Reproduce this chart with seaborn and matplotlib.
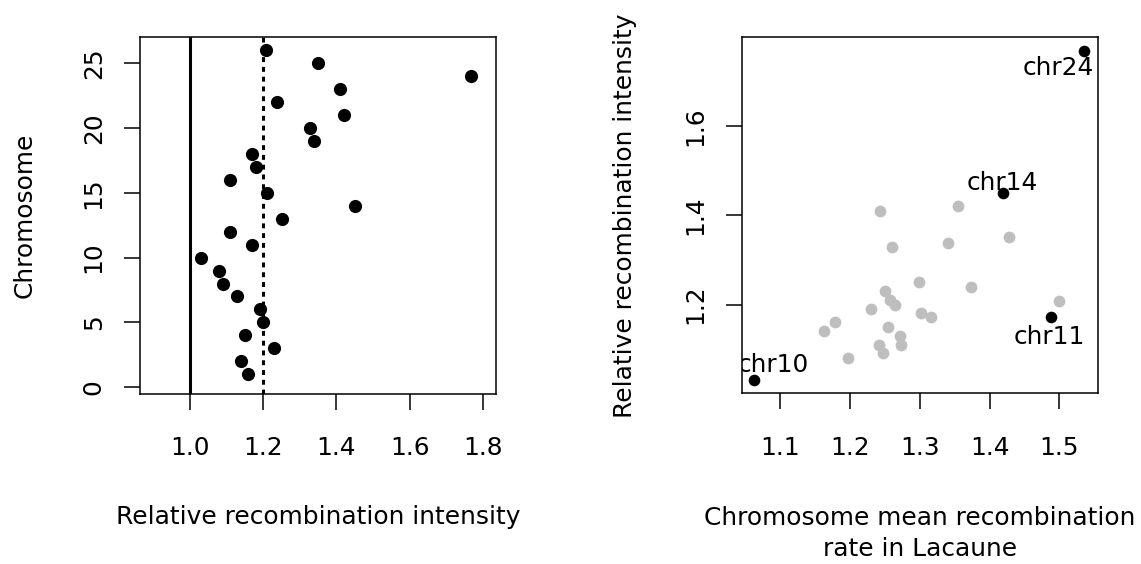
import matplotlib
matplotlib.use("Agg")
import matplotlib.pyplot as plt
import seaborn as sns
import pandas as pd

# ---- data ----
chromosome = list(range(1, 27))
intensity = [1.160, 1.140, 1.230, 1.150, 1.200, 1.191, 1.130, 1.091, 1.080, 1.031,
             1.171, 1.110, 1.251, 1.450, 1.210, 1.110, 1.180, 1.171, 1.339, 1.329,
             1.420, 1.239, 1.409, 1.769, 1.351, 1.209]
mean_rate = [1.178, 1.163, 1.251, 1.255, 1.265, 1.230, 1.272, 1.247, 1.197, 1.063,
             1.4885, 1.241, 1.2995, 1.419, 1.257, 1.273, 1.302, 1.316, 1.341, 1.260,
             1.355, 1.374, 1.243, 1.536, 1.428, 1.4995]
highlight = [10, 11, 14, 24]
ref_solid = 1.0
ref_dotted = 1.2
left_xticks = [1.0, 1.2, 1.4, 1.6, 1.8]
left_yticks = [0, 5, 10, 15, 20, 25]
right_xticks = [1.1, 1.2, 1.3, 1.4, 1.5]
right_yticks = [1.2, 1.4, 1.6]
# label offsets (points) for highlighted chromosomes
label_offsets = {24: (-18.5, -17.3), 14: (-0.4, 2.4), 11: (-1.7, -19.2), 10: (13.7, 5.8)}

df = pd.DataFrame({"chrom": chromosome, "intensity": intensity, "rate": mean_rate})
df["hl"] = df["chrom"].isin(highlight)

sns.set_style("white")
plt.rcParams["font.family"] = ["DejaVu Sans"]
for k in ("text.color", "axes.labelcolor", "xtick.color", "ytick.color",
          "axes.edgecolor"):
    plt.rcParams[k] = "black"
FS = 17.9

fig = plt.figure(figsize=(11.41, 5.64), dpi=100)
W, H = 1141, 564
ax1 = fig.add_axes([140 / W, 1 - 394 / H, 356 / W, 357 / H])
ax2 = fig.add_axes([741.7 / W, 1 - 393.3 / H, 356 / W, 356 / H])

# ---- left panel ----
ax1.axvline(ref_solid, color="black", lw=2.2, zorder=1)
ax1.axvline(ref_dotted, color="black", lw=2.2, linestyle=(0, (1.6, 1.6)), zorder=1)
sns.scatterplot(data=df, x="intensity", y="chrom", ax=ax1, color="black",
                s=90, linewidth=0, zorder=3)
ax1.set_xlim(0.864, 1.836)
ax1.set_ylim(-0.53, 27.03)
ax1.set_xticks(left_xticks)
ax1.set_xticklabels([f"{v:.1f}" for v in left_xticks])
ax1.set_yticks(left_yticks)
ax1.set_xlabel("Relative recombination intensity", fontsize=FS)
ax1.set_ylabel("Chromosome", fontsize=FS)

# ---- right panel ----
sns.scatterplot(data=df[~df["hl"]], x="rate", y="intensity", ax=ax2,
                color="#BEBEBE", s=72, linewidth=0, zorder=2)
sns.scatterplot(data=df[df["hl"]], x="rate", y="intensity", ax=ax2,
                color="black", s=70, linewidth=0, zorder=3)
for _, r in df[df["hl"]].iterrows():
    c = int(r["chrom"])
    ax2.annotate(f"chr{c}", (r["rate"], r["intensity"]), xytext=label_offsets[c],
                 textcoords="offset points", ha="center", va="baseline",
                 fontsize=FS, clip_on=True, zorder=4)
ax2.set_xlim(1.045, 1.555)
ax2.set_ylim(1.001, 1.799)
ax2.set_xticks(right_xticks)
ax2.set_xticklabels([f"{v:.1f}" for v in right_xticks])
ax2.set_yticks(right_yticks)
ax2.set_yticklabels([f"{v:.1f}" for v in right_yticks])
ax2.set_xlabel("Chromosome mean recombination\nrate in Lacaune", fontsize=FS,
               linespacing=1.38)
ax2.set_ylabel("Relative recombination intensity", fontsize=FS)

for ax in (ax1, ax2):
    for sp in ax.spines.values():
        sp.set_visible(True)
        sp.set_color("black")
        sp.set_linewidth(1.1)
    ax.tick_params(axis="both", direction="out", length=11.5, width=1.1,
                   color="black", labelcolor="black", labelsize=FS,
                   bottom=True, left=True)
    ax.tick_params(axis="x", pad=19.0)
    ax.tick_params(axis="y", pad=13.2)
    plt.setp(ax.get_yticklabels(), rotation=90, va="center")

ax1.xaxis.set_label_coords(0.5, -0.31)
ax2.xaxis.set_label_coords(0.5, -0.316)
ax1.yaxis.set_label_coords(-0.29, 0.5)
ax2.yaxis.set_label_coords(-0.295, 0.5)

fig.savefig("out.png", dpi=100)
